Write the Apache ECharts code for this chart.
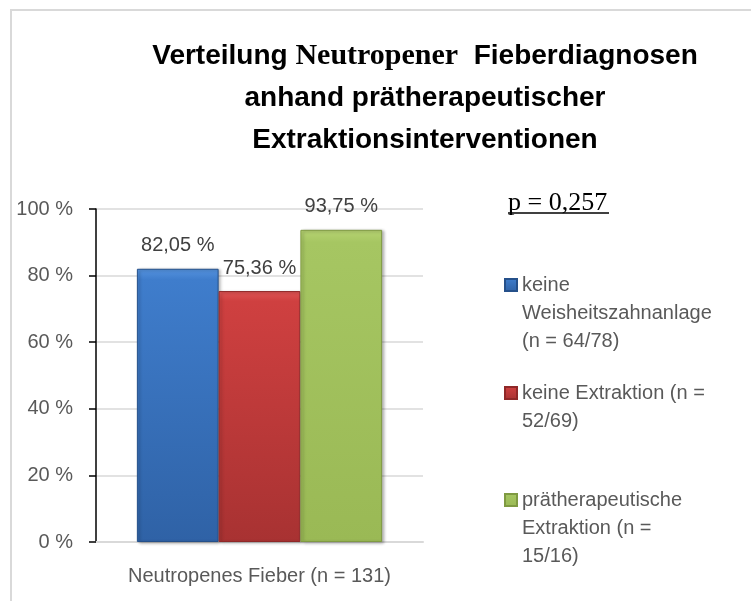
<!DOCTYPE html>
<html>
<head>
<meta charset="utf-8">
<script src="https://cdn.jsdelivr.net/npm/echarts@6/dist/echarts.min.js"></script>
<style>
  html, body { margin: 0; padding: 0; background: #fff; }
  #chart { width: 751px; height: 601px; }
</style>
</head>
<body>
<div id="chart"></div>
<script>
// daten aus der abbildung
const categories = ["Neutropenes Fieber (n = 131)"];
const seriesNames = [
    "keine\nWeisheitszahnanlage\n(n = 64/78)",
    "keine Extraktion (n =\n52/69)",
    "prätherapeutische\nExtraktion (n =\n15/16)"
];
const seriesValues = [82.05, 75.36, 93.75];
const yTicks = [0, 20, 40, 60, 80, 100];
const pValue = "p = 0,257";

// farben (oben hell, mitte, unten dunkel, rand)
const barColors = [
    ["#5593df", "#3f7dcc", "#2f62a6", "#25508a"],
    ["#e05555", "#cf4040", "#a83232", "#8f2828"],
    ["#b6d372", "#a6c662", "#9ab955", "#7f9a42"]
];
// legendenpositionen (oberkante), ausgerichtet an erster zeile
const legendTops = [215, 351, 430];

const chart = echarts.init(document.getElementById("chart"));

function grad(c) {
    return new echarts.graphic.LinearGradient(0, 0, 0, 1, [
        { offset: 0, color: c[0] },
        { offset: 0.04, color: c[1] },
        { offset: 1, color: c[2] }
    ]);
}

const series = seriesNames.map((name, i) => ({
    name: name,
    type: "bar",
    data: [seriesValues[i]],
    barGap: "0%",
    barCategoryGap: "25%",
    itemStyle: {
        color: grad(barColors[i]),
        borderColor: barColors[i][3],
        borderWidth: 1,
        shadowColor: "rgba(0,0,0,0.3)",
        shadowBlur: 3,
        shadowOffsetX: 2,
        shadowOffsetY: 1
    },
    label: {
        show: true,
        position: "top",
        distance: 13,
        fontFamily: "Liberation Sans",
        fontSize: 20,
        color: "#404040",
        formatter: p => p.value.toFixed(2).replace(".", ",") + " %"
    }
}));

// leere zeilen davor, damit das symbol an der ersten zeile steht
const legends = seriesNames.map((name, i) => {
    const lines = name.split("\n").length;
    return {
        orient: "vertical",
        left: 504,
        top: legendTops[i],
        padding: 0,
        itemWidth: 12,
        itemHeight: 12,
        icon: "rect",
        selectedMode: false,
        data: [name],
        formatter: n => "\n".repeat(lines - 1) + n,
        textStyle: {
            fontFamily: "Liberation Sans",
            fontSize: 20,
            lineHeight: 28,
            color: "#595959"
        }
    };
});

chart.setOption({
    backgroundColor: "#fff",
    animation: false,
    title: {
        text: "Verteilung {s|Neutropener}  Fieberdiagnosen\nanhand prätherapeutischer\nExtraktionsinterventionen",
        left: 425,
        top: 35,
        padding: 0,
        textAlign: "center",
        textVerticalAlign: "top",
        textStyle: {
            fontFamily: "Liberation Sans",
            fontWeight: "bold",
            fontSize: 28,
            lineHeight: 42,
            color: "#000",
            rich: {
                s: {
                    fontFamily: "Liberation Serif",
                    fontWeight: "bold",
                    fontSize: 30,
                    lineHeight: 42,
                    color: "#000"
                }
            }
        }
    },
    legend: legends,
    grid: { left: 96, right: 328, top: 209, bottom: 59 },
    xAxis: {
        type: "category",
        data: categories,
        axisTick: { show: false },
        axisLine: { lineStyle: { color: "#d9d9d9", width: 2 } },
        axisLabel: {
            margin: 24,
            fontFamily: "Liberation Sans",
            fontSize: 20,
            color: "#595959"
        }
    },
    yAxis: {
        type: "value",
        min: yTicks[0],
        max: yTicks[yTicks.length - 1],
        interval: yTicks[1] - yTicks[0],
        axisLine: { show: true, lineStyle: { color: "#000", width: 1.5 } },
        axisTick: { show: true, length: 7, lineStyle: { color: "#000", width: 1.5 } },
        splitLine: { lineStyle: { color: "#d9d9d9", width: 1.5 } },
        axisLabel: {
            margin: 23,
            fontFamily: "Liberation Sans",
            fontSize: 20,
            color: "#595959",
            formatter: "{value} %"
        }
    },
    graphic: [
        {
            type: "rect",
            shape: { x: 11, y: 10, width: 760, height: 610 },
            style: { fill: "none", stroke: "#d9d9d9", lineWidth: 2 },
            silent: true,
            z: -1
        },
        {
            type: "text",
            left: 508,
            top: 190,
            style: {
                text: pValue,
                font: "26px 'Liberation Serif'",
                fill: "#000"
            }
        },
        {
            type: "line",
            shape: { x1: 508, y1: 213, x2: 609, y2: 213 },
            style: { stroke: "#000", lineWidth: 1.5 }
        }
    ],
    series: series
});
</script>
</body>
</html>
